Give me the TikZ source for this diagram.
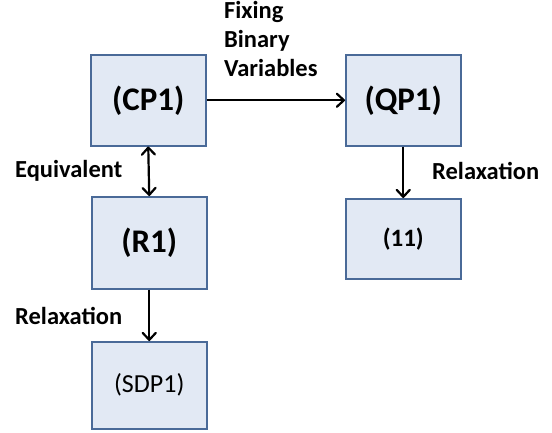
\documentclass[tikz,border=0pt]{standalone}
\usepackage{fontspec}
\setmainfont{Carlito}
\usetikzlibrary{arrows.meta}
\definecolor{boxfill}{HTML}{E2E9F4}
\definecolor{boxline}{HTML}{4A6A98}
\begin{document}
\begin{tikzpicture}[x=1pt,y=-1pt,
  bx/.style={draw=boxline,fill=boxfill,line width=1.5pt,minimum width=115pt,anchor=north west,inner sep=0pt},
  big/.style={font=\fontsize{33}{36}\selectfont\bfseries},
  small/.style={font=\fontsize{26}{30}\selectfont},
  lbl/.style={font=\fontsize{24.5}{29}\selectfont\bfseries,anchor=west,inner sep=0pt},
  tip/.tip={Straight Barb[length=7pt,width=13pt,line cap=round,line join=round]},
  arr/.style={-tip,line width=2.2pt}]
\useasboundingbox (0,0) rectangle (552,432);
\node[bx,big,minimum height=91pt] (cp1) at (90,54) {(CP1)};
\node[bx,big,minimum height=91pt] (qp1) at (345,54) {(QP1)};
\node[bx,big,minimum height=92pt] (r1) at (91,196) {(R1)};
\node[bx,font=\fontsize{25}{28}\selectfont\bfseries,minimum height=80pt] (p11) at (345,198) {(11)};
\node[bx,small,minimum height=87pt] (sdp) at (91,341) {(SDP1)};
\draw[arr] (cp1.east) -- (qp1.west);
\draw[arr,tip-tip] (cp1.south) -- (r1.north);
\draw[arr] (qp1.south) -- (p11.north);
\draw[arr] (r1.south) -- (sdp.north);
\node[lbl,align=left,anchor=north west] (fix) at (224,1) {Fixing\\Binary\\Variables};
\node[lbl] (eq) at (15,171) {Equivalent};
\node[lbl] (rx1) at (432,171) {Relaxation};
\node[lbl] (rx2) at (15,316) {Relaxation};
\end{tikzpicture}
\end{document}
